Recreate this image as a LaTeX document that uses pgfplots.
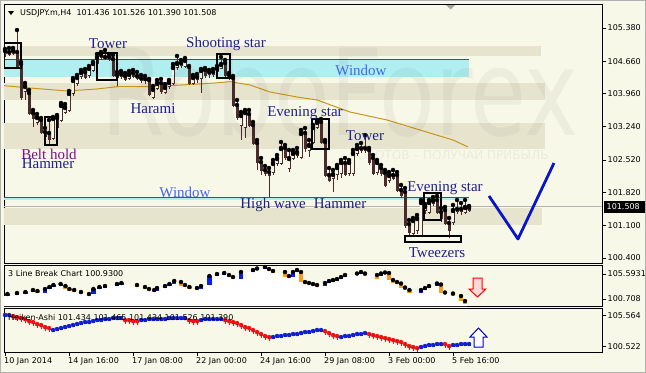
\documentclass[border=0pt]{standalone}
\usepackage{pgfplots}
\pgfplotsset{compat=1.18}
\usepackage{pgfplotstable}
\usepackage{fontspec}
\setmainfont{DejaVu Sans}
\newfontfamily\serifF{Liberation Serif}
\newcommand{\ui}{\fontsize{8bp}{9.5bp}\selectfont}
\newcommand{\lblfont}{\serifF\fontsize{15bp}{15bp}\selectfont}
\definecolor{bg}{HTML}{F8F8E8}
\definecolor{band}{HTML}{E7E4CE}
\definecolor{cyanw}{HTML}{B1EEF0}
\definecolor{darkline}{HTML}{2F5F5F}
\definecolor{candle}{HTML}{4B2B2B}
\definecolor{ma}{HTML}{C8961E}
\definecolor{lblblue}{HTML}{1E1E8C}
\definecolor{winblue}{HTML}{4466EE}
\definecolor{beltpurple}{HTML}{7A108A}
\definecolor{vblue}{HTML}{0A14C8}
\definecolor{brickblue}{HTML}{0A1EE6}
\definecolor{brickorange}{HTML}{FF9A1E}
\definecolor{haRedC}{HTML}{F01010}
\definecolor{haBlueC}{HTML}{1020D0}

\pgfplotstableread{
i o h l c
0 104.839 104.925 104.752 104.882
1 104.860 104.947 104.774 104.817
2 104.839 104.947 104.795 104.904
3 104.860 105.336 104.514 104.557
4 104.600 104.644 103.821 103.886
5 104.016 104.189 103.821 104.124
6 103.973 104.038 103.496 103.540
7 103.540 103.605 103.236 103.431
8 103.345 103.518 103.280 103.453
9 103.388 103.431 103.085 103.128
10 103.128 103.215 102.955 103.042
11 103.107 103.388 102.847 102.977
12 102.998 103.453 102.955 103.431
13 103.236 103.496 103.171 103.453
14 103.388 103.756 103.345 103.713
15 103.561 103.734 103.518 103.669
16 103.605 104.016 103.561 103.973
17 103.973 104.297 103.908 104.254
18 104.189 104.362 104.124 104.319
19 104.341 104.471 104.276 104.427
20 104.427 104.492 104.276 104.319
21 104.362 104.557 104.297 104.514
22 104.471 104.644 104.427 104.622
23 104.622 104.817 104.579 104.752
24 104.752 104.860 104.687 104.795
25 104.730 104.904 104.687 104.752
26 104.752 104.817 104.665 104.709
27 104.709 104.795 104.319 104.362
28 104.362 104.427 104.124 104.319
29 104.384 104.449 104.276 104.341
30 104.341 104.406 104.232 104.276
31 104.297 104.449 104.254 104.384
32 104.406 104.471 104.297 104.341
33 104.341 104.427 104.254 104.297
34 104.297 104.362 104.189 104.254
35 104.254 104.341 104.167 104.276
36 104.254 104.276 103.908 103.951
37 103.886 104.124 103.843 104.059
38 104.081 104.254 104.038 104.189
39 104.189 104.276 103.951 104.016
40 103.994 104.167 103.951 104.102
41 104.124 104.254 104.059 104.211
42 104.189 104.600 104.146 104.535
43 104.535 104.774 104.471 104.622
44 104.622 104.687 104.514 104.579
45 104.557 104.730 104.514 104.687
46 104.535 104.557 104.146 104.189
47 104.189 104.362 104.146 104.319
48 104.276 104.384 104.189 104.319
49 104.297 104.492 103.973 104.471
50 104.471 104.514 104.297 104.362
51 104.384 104.471 104.297 104.427
52 104.427 104.492 104.319 104.384
53 104.449 104.557 104.406 104.514
54 104.514 104.752 104.492 104.600
55 104.622 104.687 104.319 104.362
56 104.362 104.406 104.254 104.319
57 104.297 104.341 103.669 103.713
58 103.713 103.821 103.388 103.453
59 103.280 103.561 102.955 103.496
60 103.236 103.605 102.998 103.561
61 103.518 103.605 103.236 103.280
62 103.280 103.345 102.847 102.890
63 102.890 102.955 102.306 102.479
64 102.479 102.565 102.197 102.306
65 102.306 102.392 102.176 102.241
66 102.262 102.349 101.721 102.197
67 102.262 102.522 102.197 102.457
68 102.457 102.630 102.392 102.565
69 102.457 102.912 102.414 102.782
70 102.782 102.847 102.522 102.587
71 102.349 102.739 102.262 102.565
72 102.565 102.739 102.522 102.674
73 102.630 102.782 102.565 102.695
74 102.587 103.171 102.544 103.107
75 103.107 103.215 102.695 102.782
76 102.739 102.955 102.587 102.847
77 102.912 103.280 102.868 103.236
78 103.236 103.388 103.193 103.345
79 103.345 103.410 102.868 102.912
80 102.912 102.955 102.154 102.197
81 102.197 102.349 102.046 102.089
82 102.133 102.306 101.829 102.219
83 102.219 102.414 102.089 102.370
84 102.241 102.522 102.133 102.479
85 102.457 102.565 102.176 102.219
86 102.241 102.522 102.176 102.479
87 102.241 102.739 102.176 102.674
88 102.674 102.847 102.609 102.782
89 102.782 102.890 102.674 102.739
90 102.739 103.063 102.674 102.782
91 102.739 102.782 102.414 102.479
92 102.565 102.630 102.197 102.241
93 102.262 102.522 102.197 102.479
94 102.349 102.414 102.176 102.241
95 102.241 102.306 101.937 101.981
96 102.089 102.262 102.024 102.197
97 102.197 102.306 102.089 102.133
98 102.197 102.262 101.829 101.872
99 101.872 101.981 101.699 101.764
100 101.829 101.916 101.050 101.115
101 101.136 101.223 100.898 100.963
102 100.941 101.266 100.877 101.223
103 101.006 101.331 100.920 101.266
104 100.898 101.656 100.855 101.613
105 101.440 101.570 101.353 101.526
106 101.396 101.656 101.353 101.613
107 101.591 101.721 101.526 101.656
108 101.656 101.743 101.353 101.396
109 101.396 101.483 101.180 101.266
110 101.440 101.505 101.115 101.158
111 101.158 101.266 100.833 101.006
112 101.180 101.548 101.115 101.440
113 101.418 101.656 101.353 101.461
114 101.418 101.591 101.331 101.461
115 101.396 101.656 101.353 101.505
116 101.436 101.526 101.390 101.508
}\candles

\pgfplotstableread{
i t b
0.6 101.686 101.295
3 101.881 101.490
5.1 102.076 101.686
7 102.467 102.076
10 102.663 101.881
11.1 103.053 102.663
12.1 103.444 103.053
13.9 103.640 103.249
22.1 102.663 101.686
23.6 103.053 102.663
25 103.249 102.858
28 103.640 103.249
29.1 103.835 103.444
38 102.858 102.272
40 103.249 102.858
41.1 103.640 103.249
42.3 104.226 103.640
49 103.249 102.663
51.1 105.203 103.444
53 105.593 105.203
54.8 105.789 105.398
59 105.984 104.617
62 106.375 105.984
63 106.668 106.375
65 106.961 106.570
72 105.984 105.007
73 106.375 105.984
80 103.835 103.249
81 104.226 103.835
82 104.421 104.128
83 104.617 104.323
84 105.007 104.617
85 105.398 105.007
88 105.691 105.398
89 105.984 105.691
94 105.691 105.203
95 105.887 105.593
104 102.467 101.979
105 102.858 102.467
106 103.249 102.858
108 103.737 103.347
}\bluebricks

\pgfplotstableread{
i t b
8.1 102.272 101.881
15.1 103.249 102.663
16.1 102.663 102.272
17.3 102.467 102.076
19 102.076 101.686
21 101.686 101.295
33 103.444 103.053
35 103.053 102.663
36 102.663 102.467
37.3 102.467 102.076
44 104.030 103.249
45 103.444 103.053
46.1 103.053 102.663
48 102.858 102.467
56 105.398 105.007
57 105.007 104.617
66 106.570 106.180
67 106.180 105.789
70 105.984 105.007
71 105.203 104.812
74 105.984 104.030
75 104.030 103.737
76 103.835 103.640
77 103.640 103.347
78 103.444 103.151
90 105.691 105.203
93 105.398 104.617
96 105.789 104.421
97 104.421 103.933
98 104.030 103.640
99 103.737 102.956
100 102.956 102.467
101.1 102.467 101.979
109 103.542 101.979
110 101.979 101.783
112 101.783 101.295
114 101.295 100.318
115 100.318 99.829
}\orangebricks

\pgfplotstableread{
i b
-0.3 101.295
0.6 101.295
3 101.490
5.1 101.686
7 102.076
8.1 101.881
10 101.881
11.1 102.663
12.1 103.053
13.9 103.249
15.1 102.663
16.1 102.272
17.3 102.076
19 101.686
21 101.295
22.1 101.686
23.6 102.663
25 102.858
28 103.249
29.1 103.444
33 103.053
35 102.663
36 102.467
37.3 102.076
38 102.272
40 102.858
41.1 103.249
42.3 103.640
44 103.249
45 103.053
46.1 102.663
48 102.467
49 102.663
51.1 103.444
53 105.203
54.8 105.398
56 105.007
57 104.617
59 104.617
62 105.984
63 106.375
65 106.570
66 106.180
67 105.789
70 105.007
71 104.812
72 105.007
73 105.984
74 104.030
75 103.737
76 103.640
77 103.347
78 103.151
80 103.249
81 103.835
82 104.128
83 104.323
84 104.617
85 105.007
88 105.398
89 105.691
90 105.203
93 104.617
94 105.203
95 105.593
96 104.421
97 103.933
98 103.640
99 102.956
100 102.467
101.1 101.979
104 101.979
105 102.467
106 102.858
108 103.347
109 101.979
110 101.783
112 101.295
114 100.318
115 99.829
115.5 99.829
}\brickbottom

\pgfplotstableread{
i v
2 105.483
3 105.320
4 105.157
5 104.995
6 104.669
7 104.507
8 104.181
9 104.019
10 103.693
11 103.531
30 104.832
31 104.832
32 104.669
33 104.669
46 104.832
47 104.669
48 104.669
55 104.832
56 104.669
57 104.507
58 104.344
59 104.019
60 103.693
61 103.531
62 103.206
63 102.880
64 102.555
65 102.230
66 102.067
80 103.043
81 102.718
82 102.392
83 102.230
91 102.555
92 102.392
93 102.230
94 102.067
95 101.904
96 101.742
97 101.579
98 101.416
99 101.254
100 100.928
101 100.603
102 100.440
103 100.278
110 100.928
111 100.603
}\haRedTab

\pgfplotstableread{
i v
0 105.645
1 105.645
12 103.206
13 103.368
14 103.531
15 103.693
16 103.856
17 104.019
18 104.181
19 104.344
20 104.507
21 104.507
22 104.669
23 104.832
24 104.832
25 104.995
26 104.995
27 105.157
28 105.157
29 105.157
34 104.832
35 104.832
36 104.995
37 104.995
38 104.995
39 104.995
40 104.995
41 105.157
42 105.157
43 105.157
44 105.157
45 105.157
49 104.832
50 104.995
51 104.995
52 104.995
53 104.995
54 104.995
67 102.067
68 102.230
69 102.230
70 102.392
71 102.392
72 102.555
73 102.555
74 102.718
75 102.880
76 102.880
77 103.043
78 103.206
79 103.206
84 102.067
85 102.230
86 102.230
87 102.392
88 102.555
89 102.555
90 102.718
104 100.440
105 100.603
106 100.766
107 100.766
108 100.928
109 100.928
112 100.766
113 100.766
114 100.928
115 100.928
116 100.928
}\haBlueTab

\pgfplotsset{panel/.style={scale only axis, width=598bp, xmin=-0.25, xmax=149.25,
  anchor=north west,
  axis line style={black, line width=1bp},
  tick style={black, line width=0.8bp}, major tick length=4bp, tick align=outside,
  ytick pos=right, yticklabel pos=right,
  yticklabel style={font=\ui, anchor=west, inner sep=0pt, xshift=1.5bp},
  xtick=\empty}}

\begin{document}
\begin{tikzpicture}
\path[use as bounding box] (0,0) rectangle (646bp,-373bp);
\fill[bg] (0,0) rectangle (646bp,-373bp);
\draw[gray!60, line width=1bp] (0.5bp,-0.5bp) rectangle (645.5bp,-372.5bp);

% ---------------- main chart ----------------
\begin{axis}[panel, at={(4bp,-4bp)}, height=259bp, ymin=100.292, ymax=105.899,
  ytick={100.4,101.1,101.82,102.52,103.24,103.96,104.66,105.38},
  yticklabels={100.400,101.100,101.820,102.520,103.240,103.960,104.660,105.380}]
\addplot[draw=none, fill=band, forget plot] coordinates {(-0.25,104.990) (134,104.990) (134,104.774) (-0.25,104.774)} -- cycle;
\addplot[draw=none, fill=band, forget plot] coordinates {(-0.25,104.189) (135,104.189) (135,103.821) (-0.25,103.821)} -- cycle;
\addplot[draw=none, fill=band, forget plot] coordinates {(-0.25,103.323) (135,103.323) (135,102.760) (-0.25,102.760)} -- cycle;
\addplot[draw=none, fill=band, forget plot] coordinates {(-0.25,101.483) (134.25,101.483) (134.25,101.115) (-0.25,101.115)} -- cycle;
\addplot[draw=none, fill=cyanw, forget plot] coordinates {(-0.25,104.709) (116,104.709) (116,104.319) (-0.25,104.319)} -- cycle;
\addplot[draw=none, fill=cyanw, forget plot] coordinates {(-0.25,101.721) (116,101.721) (116,101.650) (-0.25,101.650)} -- cycle;
\addplot[darkline, line width=0.9bp, forget plot] coordinates {(-0.25,104.709) (116,104.709)};
\addplot[darkline, line width=0.9bp, forget plot] coordinates {(-0.25,101.721) (116,101.721)};
\addplot[black!30, line width=0.8bp, forget plot] coordinates {(-0.25,101.508) (149.25,101.508)};
\addplot[ma, line width=1bp, forget plot] coordinates {(-0.25,104.131) (7,104.075) (15.5,104.016) (23,104.059) (28,104.109) (35.75,104.109) (44.25,104.146) (52.5,104.189) (56.25,104.217) (61.25,104.146) (66.25,103.994) (73,103.886) (78,103.821) (86.25,103.561) (95.5,103.388) (103.75,103.171) (112,102.955) (115.75,102.804)};
\addplot[only marks, mark=none, forget plot, error bars/.cd, y dir=minus, y explicit, error mark=none,
  error bar style={draw=candle, line width=1bp}]
  table[x=i, y=h, y error expr=\thisrow{h}-\thisrow{l}] {\candles};
\addplot[only marks, mark=none, forget plot, error bars/.cd, y dir=minus, y explicit, error mark=none,
  error bar style={draw=candle, line width=3bp}]
  table[x=i, y expr={max(\thisrow{o},\thisrow{c})}, y error expr={abs(\thisrow{o}-\thisrow{c})+0.022}] {\candles};
\addplot[only marks, mark=none, forget plot, restrict expr to domain={\thisrow{c}-\thisrow{o}}{0.065:10},
  error bars/.cd, y dir=minus, y explicit, error mark=none,
  error bar style={draw=bg, line width=1.1bp}]
  table[x=i, y expr={\thisrow{c}-0.022}, y error expr={\thisrow{c}-\thisrow{o}-0.022}] {\candles};
\addplot[black, line width=1.8bp, forget plot] coordinates {(-0.25,105.055) (4,105.055) (4,104.514) (-0.25,104.514)} -- cycle;
\addplot[black, line width=1.8bp, forget plot] coordinates {(10,103.453) (13,103.453) (13,102.847) (10,102.847)} -- cycle;
\addplot[black, line width=1.8bp, forget plot] coordinates {(23,104.839) (28,104.839) (28,104.254) (23,104.254)} -- cycle;
\addplot[black, line width=1.8bp, forget plot] coordinates {(53,104.817) (56.25,104.817) (56.25,104.297) (53,104.297)} -- cycle;
\addplot[black, line width=1.8bp, forget plot] coordinates {(76.75,103.410) (81,103.410) (81,102.760) (76.75,102.760)} -- cycle;
\addplot[black, line width=1.8bp, forget plot] coordinates {(104.75,101.808) (109,101.808) (109,101.223) (104.75,101.223)} -- cycle;
\addplot[black, line width=1.8bp, forget plot] coordinates {(100,100.877) (114,100.877) (114,100.747) (100,100.747)} -- cycle;
\addplot[vblue, line width=2.8bp, line join=round, forget plot] coordinates {(121,101.743) (128.25,100.812) (137.25,102.457)};
\end{axis}

% ---------------- 3 line break ----------------
\begin{axis}[panel, at={(4bp,-265bp)}, height=41bp, ymin=99.341, ymax=107.352,
  ytick={100.708,105.5931}, yticklabels={100.708,105.5931}]
\addplot[draw=none, fill=white, const plot mark mid, forget plot] table[x=i, y=b] {\brickbottom} \closedcycle;
\addplot[only marks, mark=none, forget plot, error bars/.cd, y dir=minus, y explicit, error mark=none,
  error bar style={draw=brickblue, line width=4.2bp}]
  table[x=i, y=t, y error expr=\thisrow{t}-\thisrow{b}] {\bluebricks};
\addplot[only marks, mark=none, forget plot, error bars/.cd, y dir=minus, y explicit, error mark=none,
  error bar style={draw=brickorange, line width=4.2bp}]
  table[x=i, y=t, y error expr=\thisrow{t}-\thisrow{b}] {\orangebricks};
\end{axis}

% ---------------- Heiken-Ashi ----------------
\begin{axis}[panel, at={(4bp,-308bp)}, height=44bp, ymin=99.627, ymax=106.784,
  ytick={100.522,105.564}, yticklabels={100.522,105.564},
  xtick={0,16,32,48,64,80,96,112},
  xticklabels={10 Jan 2014,14 Jan 16:00,17 Jan 08:00,22 Jan 00:00,24 Jan 16:00,29 Jan 08:00,3 Feb 00:00,5 Feb 16:00},
  xtick pos=bottom,
  xticklabel style={font=\ui, anchor=north west, inner sep=0pt, xshift=-1bp, yshift=-1.5bp}]
\addplot[haRedC, only marks, mark=none, forget plot, error bars/.cd, y dir=minus, y explicit, error mark=none,
  error bar style={draw=haRedC, line width=0.7bp}] table[x=i, y=v, y error expr=0.6] {\haRedTab};
\addplot[haRedC, only marks, mark=square*, mark size=1.2bp, mark options={draw=none, fill=haRedC}, forget plot]
  table[x=i, y=v] {\haRedTab};
\addplot[haBlueC, only marks, mark=none, forget plot, error bars/.cd, y dir=plus, y explicit, error mark=none,
  error bar style={draw=haBlueC, line width=0.7bp}] table[x=i, y=v, y error expr=0.4] {\haBlueTab};
\addplot[haBlueC, only marks, mark=square*, mark size=1.2bp, mark options={draw=none, fill=haBlueC}, forget plot]
  table[x=i, y=v] {\haBlueTab};
\end{axis}

% ---------------- annotations ----------------
\begin{scope}[x=1bp, y=-1bp]
\node[anchor=base, text=black, opacity=0.045, inner sep=0pt] at (340,135)
  {\scalebox{0.76}[1]{\fontsize{120bp}{120bp}\selectfont RoboForex}};
\node[anchor=west, text=black, opacity=0.05, inner sep=0pt] at (350,154)
  {\fontsize{12bp}{12bp}\selectfont РОБОТОВ – ПОЛУЧАЙ ПРИБЫЛЬ};
\fill[black] (8,11) -- (14,11) -- (11,15) -- cycle;
\node[anchor=west, inner sep=0pt, font=\ui] at (20,13) {USDJPY.m,H4\ \ 101.436 101.526 101.390 101.508};
\fill[black!35] (446,5) -- (455,5) -- (450.5,9.5) -- cycle;
\fill[black] (604,201) rectangle (645,213);
\node[anchor=west, inner sep=0pt, text=white, font=\ui] at (606.5,207) {101.508};
\begin{scope}[every node/.style={inner sep=0pt, font=\lblfont, text=lblblue}]
\node at (108,44) {Tower};
\node at (226,44) {Shooting star};
\node at (153,109) {Harami};
\node[text=beltpurple] at (49,154) {Belt hold};
\node at (48,164) {Hammer};
\node[text=winblue] at (361,70) {Window};
\node at (305,113) {Evening star};
\node at (365,136) {Tower};
\node at (273,205) {High wave};
\node at (340,204) {Hammer};
\node[text=winblue] at (185,192) {Window};
\node at (445,188) {Evening star};
\node at (437,253) {Tweezers};
\end{scope}
\node[anchor=west, inner sep=0pt, font=\ui] at (8,274) {3 Line Break Chart 100.9300};
\node[anchor=west, inner sep=0pt, font=\ui] at (8,318) {Heiken-Ashi 101.434 101.465 101.434 101.526 101.390};
\filldraw[draw=red, fill=red!15, line width=1bp] (473,278) -- (482,278) -- (482,289) -- (486,289) -- (477.5,297) -- (469,289) -- (473,289) -- cycle;
\filldraw[draw=blue!85!black, fill=white, line width=1bp] (478.5,328) -- (487,337) -- (483,337) -- (483,347) -- (474,347) -- (474,337) -- (470,337) -- cycle;
\end{scope}
\end{tikzpicture}
\end{document}
